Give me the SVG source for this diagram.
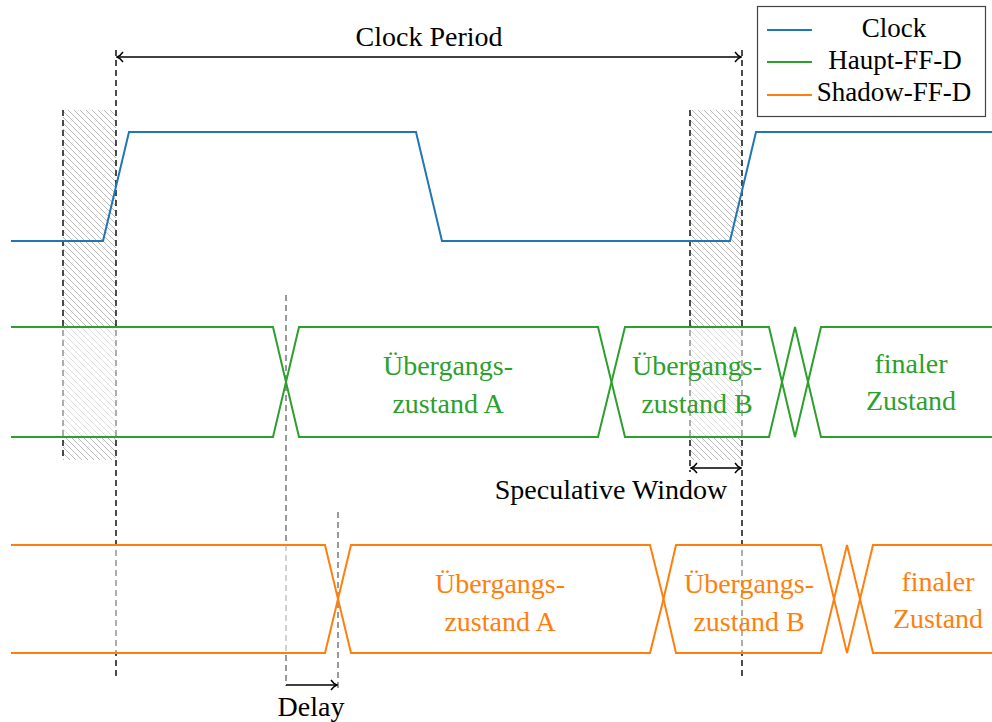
<svg xmlns="http://www.w3.org/2000/svg" width="992" height="722" viewBox="0 0 992 722">
<style>
  text { font-family: "Liberation Serif", "Times New Roman", serif; font-size: 28px; text-anchor: middle; }
  .leg { font-size: 27px; }
  .g { fill: #2ca02c; }
  .o { fill: #ff7f0e; }
  .k { fill: #000; }
  .sig { fill: none; stroke-width: 2; stroke-linejoin: miter; }
  .box-g { fill: #fff; fill-opacity: 0.55; stroke: #2ca02c; stroke-width: 2; }
  .box-o { fill: #fff; fill-opacity: 0.55; stroke: #ff7f0e; stroke-width: 2; }
  .fill-only { fill: #fff; fill-opacity: 0.55; stroke: none; }
  .line-g { fill: none; stroke: #2ca02c; stroke-width: 2; }
  .line-o { fill: none; stroke: #ff7f0e; stroke-width: 2; }
  .dash { stroke: #000; stroke-width: 1.4; stroke-dasharray: 6 4; fill: none; }
  .dashg { stroke: #555; stroke-width: 1.2; stroke-dasharray: 6 4; fill: none; }
  .arr { stroke: #000; stroke-width: 1.4; fill: none; }
</style>
<defs>
  <pattern id="hatch" patternUnits="userSpaceOnUse" width="6" height="6">
    <path d="M-1,-1 L7,7 M-1,5 L1,7 M5,-1 L7,1" stroke="#9a9a9a" stroke-width="0.7"/>
  </pattern>
  <marker id="ah" viewBox="-7 -6 8 12" refX="0" refY="0" markerWidth="8" markerHeight="12" markerUnits="userSpaceOnUse" orient="auto-start-reverse">
    <path d="M -6 -5 C -4 -2, -1.5 -0.5, 0 0 C -1.5 0.5, -4 2, -6 5" fill="none" stroke="#000" stroke-width="1.4"/>
  </marker>
</defs>

<g id="hatch-left">
  <rect x="63" y="110" width="53" height="350" fill="url(#hatch)"/>
  <line class="dash" x1="63" y1="110" x2="63" y2="460"/>
</g>
<g id="hatch-right">
  <rect x="690" y="110" width="52" height="350" fill="url(#hatch)"/>
  <line class="dash" x1="690" y1="110" x2="690" y2="472"/>
</g>

<g id="connectors">
  <line class="dash" x1="116" y1="50" x2="116" y2="678"/>
  <line class="dash" x1="742" y1="50" x2="742" y2="678"/>
  <line class="dashg" x1="286" y1="295" x2="286" y2="686"/>
  <line class="dashg" x1="338" y1="512" x2="338" y2="690"/>
  <line class="arr" x1="117" y1="57" x2="741" y2="57" marker-start="url(#ah)" marker-end="url(#ah)"/>
  <line class="arr" x1="691" y1="468" x2="741" y2="468" marker-start="url(#ah)" marker-end="url(#ah)"/>
  <line class="arr" x1="286" y1="685" x2="337" y2="685" marker-end="url(#ah)"/>
</g>

<g id="clock">
  <polyline class="sig" stroke="#1f77b4" points="11,241 103,241 129,132 416,132 442,241 730,241 756,132 992,132"/>
</g>

<g id="haupt">
  <polygon class="fill-only" points="11,327 273,327 286,382 273,437 11,437"/>
  <polyline class="line-g" points="11,327 273,327 286,382 273,437 11,437"/>
  <polygon class="box-g" points="286,382 299,327 598,327 611.5,382 598,437 299,437"/>
  <polygon class="box-g" points="611.5,382 625,327 769,327 782,382 769,437 625,437"/>
  <polygon class="box-g" points="782,382 795,327 808,382 795,437"/>
  <polyline class="box-g" points="1000,327 821,327 808,382 821,437 1000,437"/>
</g>

<g id="shadow">
  <polygon class="fill-only" points="11,545 325,545 338,599 325,653 11,653"/>
  <polyline class="line-o" points="11,545 325,545 338,599 325,653 11,653"/>
  <polygon class="box-o" points="338,599 351,545 650,545 663.5,599 650,653 351,653"/>
  <polygon class="box-o" points="663.5,599 676,545 821,545 834,599 821,653 676,653"/>
  <polygon class="box-o" points="834,599 847,545 860,599 847,653"/>
  <polyline class="box-o" points="1000,545 873,545 860,599 873,653 1000,653"/>
</g>

<g id="labels">
  <text class="k" x="429" y="46">Clock Period</text>
  <text class="k" x="611" y="499">Speculative Window</text>
  <text class="k" x="311" y="716">Delay</text>
  <text class="g" x="448" y="375">Übergangs-</text>
  <text class="g" x="448" y="413">zustand A</text>
  <text class="g" x="697" y="375">Übergangs-</text>
  <text class="g" x="697" y="413">zustand B</text>
  <text class="g" x="911" y="373">finaler</text>
  <text class="g" x="911" y="410">Zustand</text>
  <text class="o" x="500" y="593">Übergangs-</text>
  <text class="o" x="500" y="631">zustand A</text>
  <text class="o" x="749" y="593">Übergangs-</text>
  <text class="o" x="749" y="631">zustand B</text>
  <text class="o" x="938" y="591">finaler</text>
  <text class="o" x="938" y="628">Zustand</text>
</g>

<g id="legend">
  <rect x="757.5" y="6.5" width="228" height="110" fill="#fff" stroke="#444" stroke-width="1.2"/>
  <line x1="767" y1="30" x2="812" y2="30" stroke="#1f77b4" stroke-width="2"/>
  <line x1="767" y1="62" x2="812" y2="62" stroke="#2ca02c" stroke-width="2"/>
  <line x1="767" y1="95" x2="812" y2="95" stroke="#ff7f0e" stroke-width="2"/>
  <text class="leg k" x="894" y="37">Clock</text>
  <text class="leg k" x="895" y="69">Haupt-FF-D</text>
  <text class="leg k" x="894" y="101">Shadow-FF-D</text>
</g>
</svg>
